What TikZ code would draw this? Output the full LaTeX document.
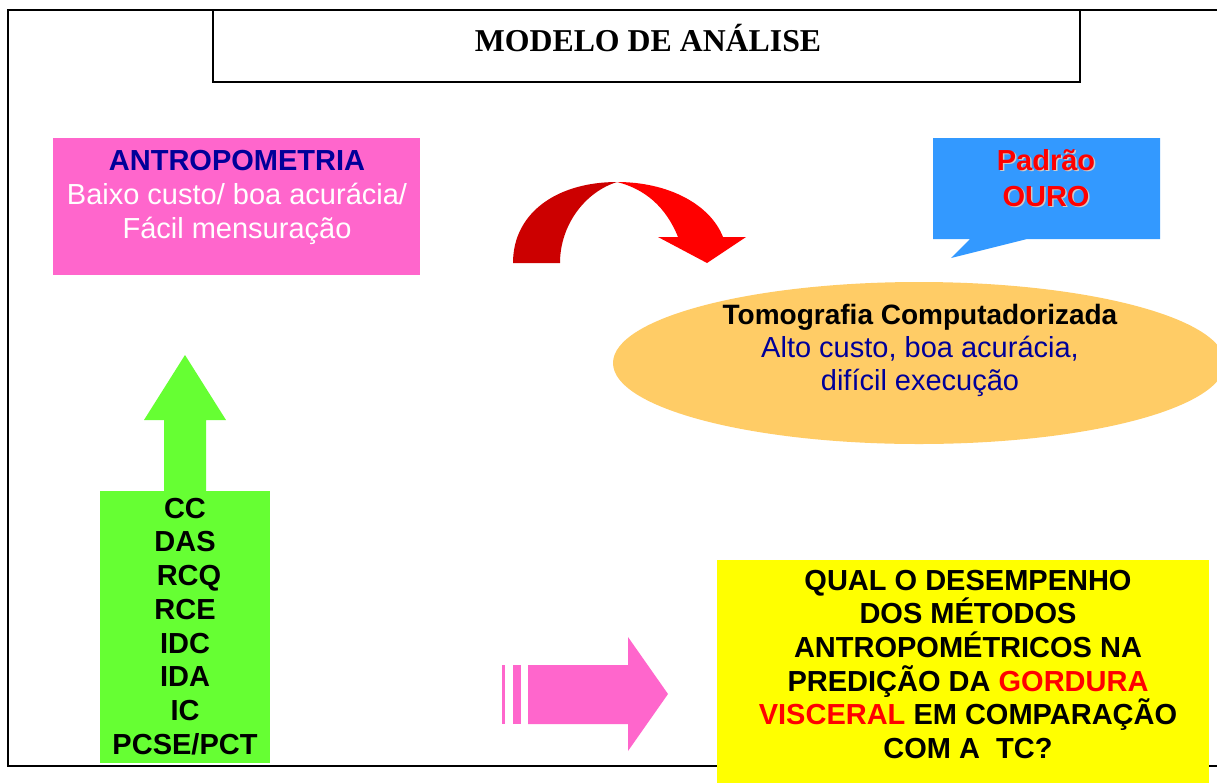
\documentclass[tikz,border=0pt]{standalone}
\usepackage{fontspec}
\setmainfont{Liberation Sans}
\newfontfamily\titlefont{Liberation Serif}
\usetikzlibrary{shapes.geometric}
\definecolor{pinkc}{HTML}{FF66CC}
\definecolor{navyc}{HTML}{000099}
\definecolor{greenc}{HTML}{66FF33}
\definecolor{orangec}{HTML}{FFCC66}
\definecolor{bluec}{HTML}{3399FF}
\definecolor{darkredc}{HTML}{CC0000}
\definecolor{redc}{HTML}{FF0000}
\definecolor{yellowc}{HTML}{FFFF00}
\tikzset{
  box/.style={anchor=north west, inner sep=0pt, outer sep=0pt},
  txt/.style={inner sep=0pt, outer sep=0pt, align=center, font=\fontsize{29}{34}\selectfont},
}
\begin{document}
\begin{tikzpicture}[x=1pt,y=-1pt]
\useasboundingbox (0,0) rectangle (1217,782);
\clip (0,0) rectangle (1217,782);
\fill[white] (0,0) rectangle (1217,782);
% outer frame
\draw[line width=2pt] (1240,10) -- (8,10) -- (8,766) -- (1240,766);
% title box
\node[box, draw, line width=1.8pt, fill=white, minimum width=867pt, minimum height=72pt] (titlebox) at (213,10) {};
\node[anchor=base, inner sep=0pt, font=\titlefont\bfseries\fontsize{31.8}{32}\selectfont] (title) at (648,51) {MODELO DE ANÁLISE};
% antropometria box
\node[box, fill=pinkc, minimum width=367pt, minimum height=137pt] (antro) at (53,138) {};
\node[txt, anchor=north, text=white] (antrotxt) at (237,150)
  {{\bfseries\color{navyc}ANTROPOMETRIA}\\Baixo custo/ boa acurácia/\\Fácil mensuração};
% curved red arrow
\fill[darkredc] (513,263) .. controls (513,212) and (558,182) .. (617,182)
  .. controls (585,192) and (560,225) .. (560,263) -- cycle;
\fill[redc] (617,182) .. controls (668,182) and (710,204) .. (723,237)
  -- (746,237) -- (707,263) -- (658,237) -- (678,237)
  .. controls (666,207) and (645,189) .. (617,182) -- cycle;
% padrao ouro callout
\fill[bluec] (933,138) -- (1160,138) -- (1160,239) -- (1027,239) -- (951,258) -- (970,239) -- (933,239) -- cycle;
\node[txt, anchor=north, text=gray!40, font=\bfseries\fontsize{29}{36}\selectfont] (padraoshadow) at (1047.5,150.5) {Padrão\\OURO};
\node[txt, anchor=north, text=redc, font=\bfseries\fontsize{29}{36}\selectfont] (padrao) at (1046,149) {Padrão\\OURO};
% tomografia ellipse
\node[ellipse, fill=orangec, inner sep=0pt, minimum width=612pt, minimum height=162pt] (tc) at (919,363) {};
\node[txt, anchor=north, text=navyc, font=\fontsize{29}{33.3}\selectfont] (tctxt) at (920,304)
  {{\bfseries\color{black}\fontsize{28}{33.3}\selectfont Tomografia Computadorizada}\\Alto custo, boa acurácia,\\difícil execução};
% green list box and up arrow
\node[box, fill=greenc, minimum width=170pt, minimum height=272pt] (list) at (100,491) {};
\fill[greenc] (164,492) -- (164,420) -- (144,420) -- (185,355) -- (226,420) -- (206,420) -- (206,492) -- cycle;
\node[txt, anchor=north, font=\bfseries\fontsize{29}{33.7}\selectfont] (listtxt) at (185,498)
  {CC\\DAS\\\hspace*{8pt}RCQ\\RCE\\IDC\\IDA\\IC\\PCSE/PCT};
% pink right arrow
\fill[pinkc] (502,665) rectangle (505,724);
\fill[pinkc] (513,665) rectangle (521,724);
\fill[pinkc] (528,665) -- (628,665) -- (628,637) -- (668,694) -- (628,751) -- (628,724) -- (528,724) -- cycle;
% question box
\node[box, fill=yellowc, minimum width=492pt, minimum height=240pt] (question) at (717,560) {};
\node[txt, anchor=north, font=\bfseries\fontsize{29}{33.6}\selectfont] (questiontxt) at (968,570)
  {QUAL O DESEMPENHO\\DOS MÉTODOS\\ANTROPOMÉTRICOS NA\\PREDIÇÃO DA {\color{redc}GORDURA}\\{\color{redc}VISCERAL} EM COMPARAÇÃO\\COM A\ \ TC?};
\end{tikzpicture}
\end{document}
